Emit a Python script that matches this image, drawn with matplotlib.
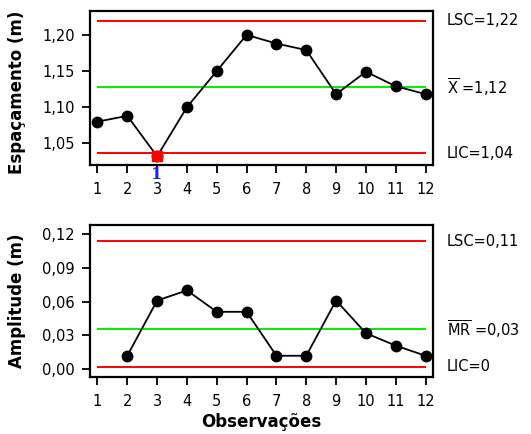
import numpy as np
import matplotlib
matplotlib.use("Agg")
import matplotlib.pyplot as plt

plt.rcParams['font.family'] = ['DejaVu Sans']
plt.rcParams['mathtext.fontset'] = 'dejavusans'

obs = np.arange(1, 13)
espacamento = [1.080, 1.088, 1.032, 1.100, 1.150, 1.200, 1.188, 1.179, 1.118, 1.149, 1.129, 1.118]
amplitude = [np.nan, 0.012, 0.061, 0.070, 0.051, 0.051, 0.012, 0.012, 0.061, 0.032, 0.021, 0.012]

x_lsc, x_centro, x_lic = 1.2194, 1.128, 1.0366
mr_lsc, mr_centro, mr_lic = 0.1138, 0.036, 0.0023
fora_controle = [3]  # pontos fora de controle (teste 1)

x_labels = ['LSC=1,22', r'$\overline{\mathrm{X}}$ =1,12', 'LIC=1,04']
mr_labels = ['LSC=0,11', r'$\overline{\mathrm{M}}\overline{\mathrm{R}}$ =0,03', 'LIC=0']
x_yticks = [1.05, 1.10, 1.15, 1.20]
mr_yticks = [0.00, 0.03, 0.06, 0.09, 0.12]

fs = 10.5

fig = plt.figure(figsize=(5.31, 4.34), dpi=100)
ax1 = fig.add_axes([0.1695, 0.6198, 0.646, 0.3548])
ax2 = fig.add_axes([0.1695, 0.132, 0.646, 0.3495])

def estilo(ax, yticks):
    ax.set_xlim(0.75, 12.25)
    ax.set_xticks(obs)
    ax.set_yticks(yticks)
    ax.set_yticklabels([('%.2f' % v).replace('.', ',') for v in yticks])
    for s in ax.spines.values():
        s.set_linewidth(1.6)
    ax.tick_params(direction='out', length=6, width=1.3, labelsize=fs)
    ax.tick_params(axis='x', pad=6.5)
    ax.tick_params(axis='y', pad=5)

# carta X
ax1.hlines([x_lsc, x_lic], 1, 12, colors='#ff0000', lw=1.4)
ax1.hlines(x_centro, 1, 12, colors='#00ee00', lw=1.4)
ax1.plot(obs, espacamento, color='black', lw=1.3, marker='o', ms=7.5, zorder=3)
idx = [i - 1 for i in fora_controle]
ax1.plot(obs[idx], np.array(espacamento)[idx], ls='none', marker='s', ms=7, color='#ff0000', zorder=4)
ax1.set_ylim(1.020, 1.233)
estilo(ax1, x_yticks)
for p in fora_controle:
    ax1.text(p, -0.004, '1', color='#1a1aff', fontweight='bold', fontsize=11.5,
             ha='center', va='top', transform=ax1.get_xaxis_transform(),
             family='DejaVu Serif', zorder=10, clip_on=False)
for yv, t in zip([x_lsc, x_centro, x_lic], x_labels):
    ax1.text(1.04, yv, t, transform=ax1.get_yaxis_transform(), ha='left', va='center', fontsize=fs)

# carta MR
ax2.hlines([mr_lsc, mr_lic], 1, 12, colors='#ff0000', lw=1.4)
ax2.hlines(mr_centro, 1, 12, colors='#00ee00', lw=1.4)
ax2.plot(obs, amplitude, color='black', lw=1.3, marker='o', ms=7.5, zorder=3)
ax2.set_ylim(-0.0066, 0.128)
estilo(ax2, mr_yticks)
for yv, t in zip([mr_lsc, mr_centro, mr_lic], mr_labels):
    ax2.text(1.04, yv, t, transform=ax2.get_yaxis_transform(), ha='left', va='center', fontsize=fs)

fig.text(17 / 531, 1 - 92 / 434, 'Espaçamento (m)', rotation=90, ha='center', va='center',
         fontsize=12, fontweight='bold')
fig.text(17 / 531, 1 - 301 / 434, 'Amplitude (m)', rotation=90, ha='center', va='center',
         fontsize=12, fontweight='bold')
fig.text(261 / 531, 1 - 422 / 434, 'Observações', ha='center', va='center',
         fontsize=12, fontweight='bold')

fig.savefig('out.png', dpi=100)
